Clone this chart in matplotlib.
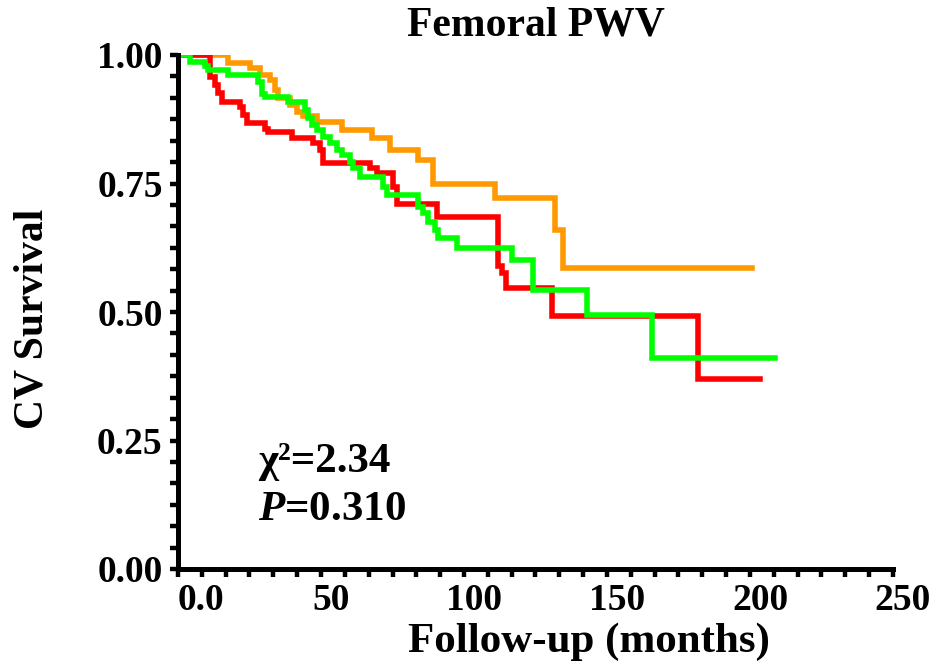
import matplotlib
matplotlib.use("Agg")
import matplotlib.pyplot as plt
from matplotlib.ticker import MultipleLocator
from matplotlib.transforms import ScaledTranslation
import numpy as np

plt.rcParams['font.family'] = ['Liberation Serif', 'DejaVu Serif']
plt.rcParams['font.weight'] = 'bold'
plt.rcParams['mathtext.fontset'] = 'custom'
plt.rcParams['mathtext.it'] = 'Liberation Serif:bold:italic'
plt.rcParams['mathtext.rm'] = 'Liberation Serif:bold'

# Kaplan-Meier step curves (months, survival)
orange_t = [0, 17.5, 25.2, 28.7, 32.2, 33.9, 35.0, 39.2, 41.6, 43.7, 48.6, 57.3,
            67.8, 74.1, 83.9, 89.2, 110.8, 131.8, 134.6, 200.7]
orange_s = [1.0, 0.984, 0.974, 0.961, 0.951, 0.932, 0.916, 0.903, 0.890, 0.881, 0.870, 0.854,
            0.838, 0.815, 0.796, 0.750, 0.721, 0.660, 0.585, 0.585]

red_t = [0, 11.2, 12.9, 14.0, 15.4, 21.7, 22.7, 24.1, 30.4, 31.5, 39.9, 47.2, 49.7,
         50.7, 67.1, 69.6, 75.2, 76.6, 90.6, 111.9, 113.3, 114.7, 130.8, 181.8, 203.5]
red_s = [1.0, 0.958, 0.942, 0.926, 0.909, 0.899, 0.883, 0.867, 0.857, 0.851, 0.838, 0.829, 0.815,
         0.789, 0.780, 0.770, 0.744, 0.711, 0.685, 0.589, 0.575, 0.546, 0.493, 0.369, 0.369]

green_t = [0, 4.2, 9.4, 10.5, 17.5, 28.0, 29.4, 30.4, 38.5, 44.4, 45.5, 46.9, 48.6, 50.7,
           53.1, 55.6, 57.3, 60.1, 61.2, 63.6, 71.7, 73.1, 83.9, 85.7, 87.4, 89.9, 90.9,
           97.6, 116.8, 124.1, 143.0, 165.7, 208.7]
green_s = [1.0, 0.987, 0.979, 0.971, 0.961, 0.948, 0.925, 0.919, 0.909, 0.893, 0.877, 0.864, 0.854, 0.841,
           0.828, 0.815, 0.805, 0.792, 0.780, 0.763, 0.744, 0.728, 0.705, 0.692, 0.676, 0.660, 0.643,
           0.624, 0.601, 0.543, 0.494, 0.410, 0.410]

x_ticks = [0, 50, 100, 150, 200, 250]
x_labels = ['0.0', '50', '100', '150', '200', '250']
y_ticks = [0, 0.25, 0.5, 0.75, 1.0]
y_labels = ['0.00', '0.25', '0.50', '0.75', '1.00']

fig = plt.figure(figsize=(9.37, 6.65), dpi=100)
ax = fig.add_axes([178/937, (665-569)/665, (893-178)/937, (569-55)/665])

lw = 4.0
ax.step(orange_t, orange_s, where='post', color='#ff9900', lw=lw, solid_joinstyle='miter')
ax.step(red_t, red_s, where='post', color='#ff0000', lw=lw, solid_joinstyle='miter')
ax.step(green_t, green_s, where='post', color='#00ff00', lw=lw, solid_joinstyle='miter')

ax.set_xlim(0, 250)
ax.set_ylim(0, 1)
for side in ['top', 'right']:
    ax.spines[side].set_visible(False)
for side in ['left', 'bottom']:
    ax.spines[side].set_linewidth(3.6)

ax.set_xticks(x_ticks)
ax.set_xticklabels(x_labels)
ax.set_yticks(y_ticks)
ax.set_yticklabels(y_labels)
ax.xaxis.set_minor_locator(MultipleLocator(50/6))
ax.yaxis.set_minor_locator(MultipleLocator(0.25/6))
ax.tick_params(which='both', direction='out', length=6, width=3.2)
ax.tick_params(axis='x', which='major', labelsize=27, pad=4)
ax.tick_params(axis='y', which='major', labelsize=27, pad=5)

# labels sit a little right of their ticks in the original
for lab in ax.get_xticklabels():
    dx = 23 if lab.get_text() == '0.0' else 10
    lab.set_transform(lab.get_transform() + ScaledTranslation(dx/100, 0, fig.dpi_scale_trans))

ax.set_title('Femoral PWV', fontsize=30, fontweight='bold', pad=14)
ax.set_xlabel('Follow-up (months)', fontsize=31, fontweight='bold')
ax.set_ylabel('CV Survival', fontsize=30, fontweight='bold')
ax.xaxis.set_label_coords((589-178)/715, -0.105)
ax.yaxis.set_label_coords(-(178-52)/715, 0.487)

ax.text(28, 0.208, 'χ²=2.34', fontsize=31, fontweight='bold', va='center', ha='left')
ax.text(28, 0.115, '$\\mathit{P}$=0.310', fontsize=31, fontweight='bold', va='center', ha='left')

fig.savefig('out.png', dpi=100)
